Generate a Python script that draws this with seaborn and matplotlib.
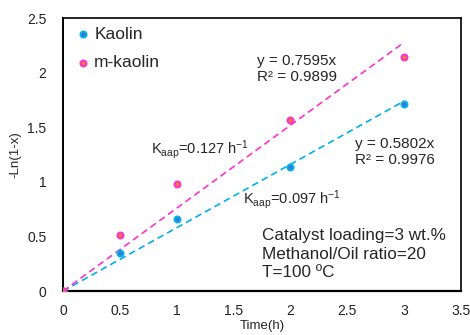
import numpy as np
import pandas as pd
import seaborn as sns
import matplotlib.pyplot as plt

# Data
time_h = [0, 0.5, 1, 2, 3]
kaolin = [0, 0.35, 0.66, 1.14, 1.71]
m_kaolin = [0, 0.51, 0.98, 1.57, 2.14]
series_names = ['Kaolin', 'm-kaolin']
fit_slopes = [0.5802, 0.7595]
fit_r2 = [0.9976, 0.9899]
k_app = [0.097, 0.127]

x_ticks = [0, 0.5, 1, 1.5, 2, 2.5, 3, 3.5]
x_tick_labels = ['0', '0.5', '1', '1.5', '2', '2.5', '3', '3.5']
y_ticks = [0, 0.5, 1, 1.5, 2, 2.5]
y_tick_labels = ['0', '0.5', '1', '1.5', '2', '2.5']

edge_colors = {'Kaolin': '#00B0F0', 'm-kaolin': '#FF33CC'}
face_colors = {'Kaolin': '#4472C4', 'm-kaolin': '#ED7D31'}

sns.set_style('white')
plt.rcParams['font.family'] = ['Liberation Sans', 'DejaVu Sans']

df = pd.DataFrame({
    'time': time_h * 2,
    'lnx': kaolin + m_kaolin,
    'sample': [series_names[0]] * len(time_h) + [series_names[1]] * len(time_h),
})

fig, ax = plt.subplots(figsize=(4.7, 3.35), dpi=100)

# --- trend lines (through origin) ---
x_line = np.array([0, 3])
for name, slope in zip(series_names, fit_slopes):
    ax.plot(x_line, slope * x_line, ls=(0, (4, 2.5)), lw=1.2,
            color=edge_colors[name], zorder=2)

# --- points ---
for name in series_names:
    sub = df[df['sample'] == name]
    sns.scatterplot(data=sub, x='time', y='lnx', ax=ax, label=name,
                    color=face_colors[name], edgecolor=edge_colors[name],
                    linewidth=1.5, s=18, zorder=3)

ax.set_xlim(0, 3.5)
ax.set_ylim(0, 2.5)
ax.set_xticks(x_ticks)
ax.set_xticklabels(x_tick_labels)
ax.set_yticks(y_ticks)
ax.set_yticklabels(y_tick_labels)
ax.tick_params(axis='both', length=0, labelsize=10, colors='#222222')
ax.tick_params(axis='x', pad=9)
ax.tick_params(axis='y', pad=12)
ax.set_xlabel('Time(h)', fontsize=9.5, labelpad=2)
ax.set_ylabel('-Ln(1-x)', fontsize=9.5, labelpad=4)

for side in ['top', 'right', 'left', 'bottom']:
    ax.spines[side].set_visible(True)
    ax.spines[side].set_color('black')
    ax.spines[side].set_linewidth(1.2)
ax.spines['bottom'].set_linewidth(1.6)
ax.spines['left'].set_linewidth(1.4)

# --- annotations ---
ax.text(1.71, 2.17, f'y = {fit_slopes[1]}x\nR² = {fit_r2[1]}', fontsize=11,
        linespacing=1.2, va='top')
ax.text(2.57, 1.41, f'y = {fit_slopes[0]}x\nR² = {fit_r2[0]}', fontsize=11,
        linespacing=1.2, va='top')
ax.text(0.77, 1.26, '$\\mathregular{K_{aap}}$=' + f'{k_app[1]}' + ' $\\mathregular{h^{-1}}$',
        fontsize=10.5, va='baseline')
ax.text(1.58, 0.80, '$\\mathregular{K_{aap}}$=' + f'{k_app[0]}' + ' $\\mathregular{h^{-1}}$',
        fontsize=10.5, va='baseline')
ax.text(1.75, 0.125, 'Catalyst loading=3 wt.%\nMethanol/Oil ratio=20\nT=100 ºC',
        fontsize=12.3, linespacing=1.3, va='baseline')

ax.legend(loc='upper left', frameon=False, fontsize=12.5, handletextpad=0.0,
          handlelength=1.3, labelspacing=0.75, borderaxespad=0.1,
          markerscale=1.0)

fig.subplots_adjust(left=0.134, right=0.981, top=0.946, bottom=0.131)
fig.savefig('out.png', dpi=100)
